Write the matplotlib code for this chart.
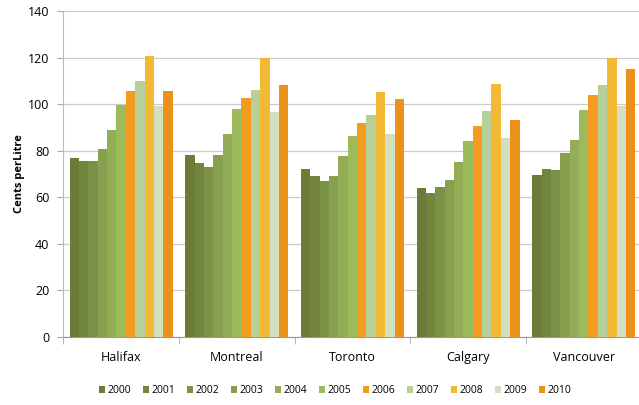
import numpy as np
import matplotlib
matplotlib.use("Agg")
import matplotlib.pyplot as plt

plt.rcParams['font.family'] = ['Open Sans', 'DejaVu Sans']

cities = ["Halifax", "Montreal", "Toronto", "Calgary", "Vancouver"]
years = ["2000", "2001", "2002", "2003", "2004", "2005",
         "2006", "2007", "2008", "2009", "2010"]

halifax = [77, 75.5, 75.5, 80.5, 89, 99.5, 105.5, 110, 120.5, 99, 105.5]
montreal = [78, 74.5, 73, 78, 87, 98, 102.5, 106, 120, 96.5, 108]
toronto = [72, 69, 67, 69, 77.5, 86.5, 92, 95.5, 105, 87, 102]
calgary = [64, 62, 64.5, 67.5, 75, 84, 90.5, 97, 108.5, 85.5, 93]
vancouver = [69.5, 72, 71.5, 79, 84.5, 97.5, 104, 108, 120, 99, 115]

colors = ["#6a7b3a", "#71853f", "#7b9246", "#87a04f", "#92ad55", "#9dbb5b",
          "#f39c1f", "#b9cf99", "#f2b934", "#d3e0c0", "#ec921b"]

data = np.array([halifax, montreal, toronto, calgary, vancouver])

fig = plt.figure(figsize=(6.39, 4.05), dpi=100)
ax = fig.add_axes([0.099, 0.168, 0.905, 0.805])

x = np.arange(len(cities))
n = len(years)
w = 0.081
for i, yr in enumerate(years):
    ax.bar(x - w * (n - 1) / 2 + i * w, data[:, i], width=w,
           color=colors[i], label=yr, zorder=3, linewidth=0)

ax.set_xlim(-0.5, len(cities) - 0.5)
ax.set_ylim(0, 140)
ax.set_yticks(range(0, 141, 20))
ax.yaxis.grid(True, color="#cccccc", linewidth=0.9, zorder=0)
ax.set_xticks(x)
ax.set_xticklabels(cities, fontsize=9)
ax.set_xticks(np.arange(-0.5, len(cities)), minor=True)
ax.tick_params(axis="x", which="major", length=0, pad=10)
ax.tick_params(axis="x", which="minor", length=5, color="#aaaaaa")
ax.tick_params(axis="y", length=4, color="#aaaaaa", labelsize=9, pad=6)
for s in ["top", "right"]:
    ax.spines[s].set_visible(False)
ax.spines["left"].set_color("#bbbbbb")
ax.spines["bottom"].set_color("#999999")

ax.set_ylabel("Cents perLitre", fontsize=8, fontweight="bold", labelpad=2)

ax.legend(loc="upper center", bbox_to_anchor=(0.47, -0.12), ncol=11,
          frameon=False, fontsize=7.5, handlelength=0.6, handleheight=0.6,
          handletextpad=0.2, columnspacing=1.15)

fig.savefig("out.png", dpi=100)
